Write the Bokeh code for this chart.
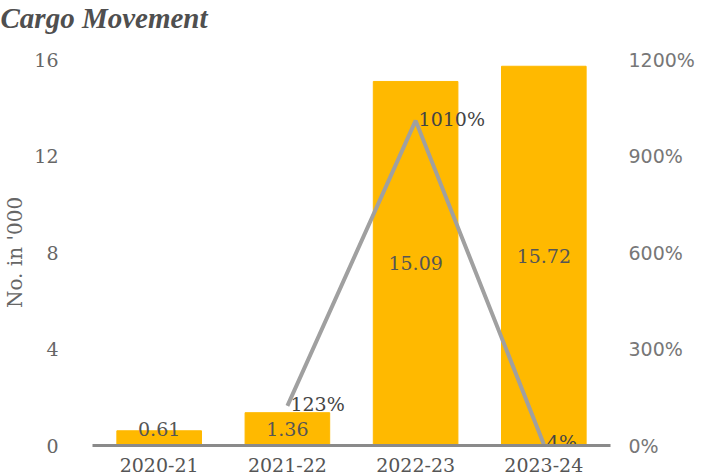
from bokeh.plotting import figure
from bokeh.models import (ColumnDataSource, Range1d, LinearAxis, FixedTicker,
                          PrintfTickFormatter, FactorRange, Title)
from bokeh.core.properties import value
from bokeh.embed import file_html
from bokeh.resources import INLINE

years = ["2020-21", "2021-22", "2022-23", "2023-24"]
cargo = [0.61, 1.36, 15.09, 15.72]
growth_years = ["2021-22", "2022-23", "2023-24"]
growth = [123, 1010, 4]
left_ticks = [0, 4, 8, 12, 16]
right_ticks = [0, 300, 600, 900, 1200]

BAR = "#FFB900"
SERIF = "DejaVu Serif"

p = figure(x_range=FactorRange(*years, range_padding=0.01), y_range=Range1d(0, 16),
           frame_width=518, frame_height=386,
           min_border_left=88, min_border_right=90, min_border_top=59, min_border_bottom=20,
           output_backend="svg", toolbar_location=None, title=None)
p.outline_line_color = None
p.xgrid.grid_line_color = None
p.ygrid.grid_line_color = None
p.background_fill_color = "white"

spacer = Title(text=" ", text_font_size="1px", standoff=21)
p.add_layout(spacer, "above")
t = Title(text="Cargo Movement", align="left", offset=-92, vertical_align="top",
          text_font="Liberation Serif", text_font_style="bold italic",
          text_font_size="29px", text_color="#4f4f4f", standoff=0)
p.add_layout(t, "above")

bars = ColumnDataSource(dict(x=years, top=cargo,
                             ly=[max(v / 2, 0.7) for v in cargo],
                             txt=[f"{v:.2f}" for v in cargo]))
p.vbar(x="x", top="top", width=0.66, color=BAR, source=bars)
p.text(x="x", y="ly", text="txt", source=bars, text_align="center",
       text_baseline="middle", text_font=value(SERIF), text_font_size="19px",
       text_color="#555555")

p.extra_y_ranges = {"pct": Range1d(0, 1200)}
lines = ColumnDataSource(dict(x=growth_years, y=growth,
                              txt=[f"{g}%" for g in growth]))
p.line(x="x", y="y", y_range_name="pct", source=lines, line_color="#a0a0a0",
       line_width=4)
p.text(x="x", y="y", y_range_name="pct", text="txt", source=lines,
       text_align="left", text_baseline="middle", x_offset=3, y_offset=-2,
       text_font=value(SERIF), text_font_size="19px", text_color="#444444")

# left axis
ya = p.yaxis[0]
ya.ticker = FixedTicker(ticks=left_ticks)
ya.axis_line_color = None
ya.major_tick_line_color = None
ya.minor_tick_line_color = None
ya.major_label_standoff = 28
ya.major_label_text_font = SERIF
ya.major_label_text_font_size = "19px"
ya.major_label_text_color = "#666666"
ya.axis_label = "No. in '000"
ya.axis_label_text_font = SERIF
ya.axis_label_text_font_style = "normal"
ya.axis_label_text_font_size = "20px"
ya.axis_label_text_color = "#666666"
ya.axis_label_standoff = 4

# right axis
ra = LinearAxis(y_range_name="pct", ticker=FixedTicker(ticks=right_ticks),
                formatter=PrintfTickFormatter(format="%d%%"))
ra.axis_line_color = None
ra.major_tick_line_color = None
ra.minor_tick_line_color = None
ra.major_label_standoff = 12
ra.major_label_text_font = "DejaVu Sans"
ra.major_label_text_font_size = "19px"
ra.major_label_text_color = "#777777"
p.add_layout(ra, "right")

# x axis
xa = p.xaxis[0]
xa.axis_line_color = "#8a8a8a"
xa.axis_line_width = 3
xa.major_tick_line_color = None
xa.minor_tick_line_color = None
xa.major_label_standoff = 6
xa.major_label_text_font = SERIF
xa.major_label_text_font_size = "19px"
xa.major_label_text_color = "#555555"

open("out.html", "w").write(file_html(p, INLINE))
